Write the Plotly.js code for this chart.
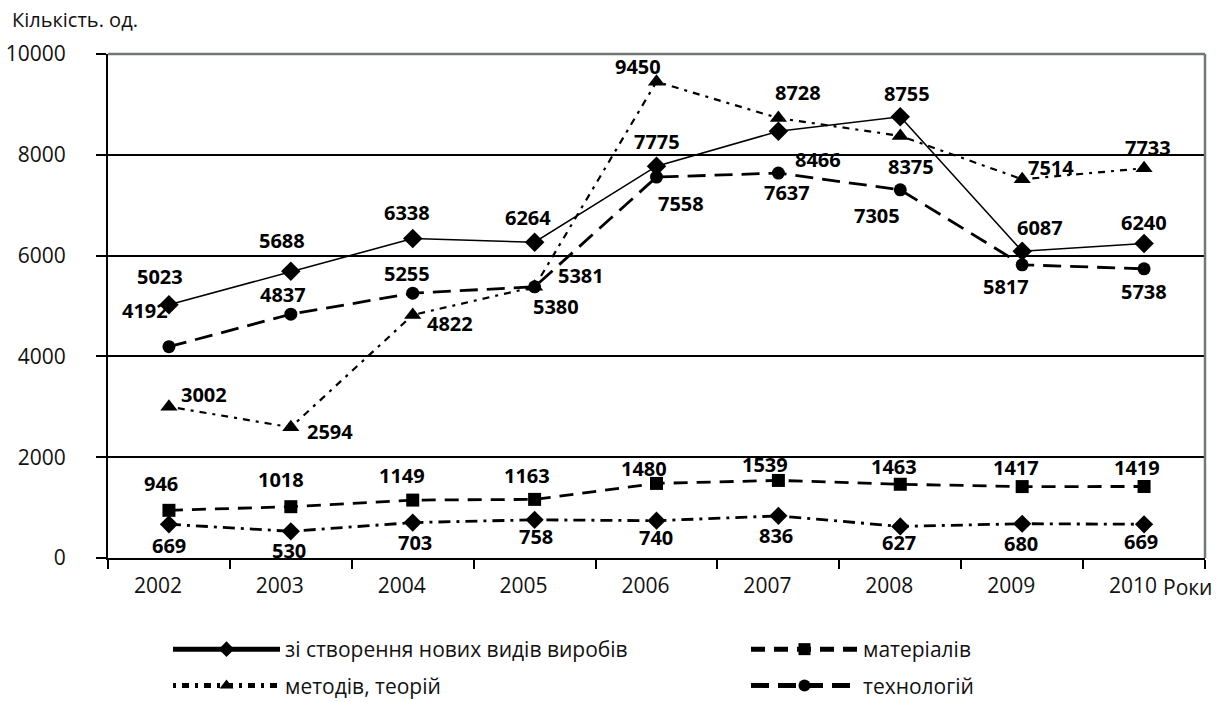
<!DOCTYPE html>
<html><head><meta charset="utf-8">
<script src="https://cdn.plot.ly/plotly-3.0.1.min.js"></script>
<style>body{margin:0;background:#fff}#chart{width:1225px;height:702px}</style>
</head><body><div id="chart"></div>
<script>
// ---- data ----
const years = ['2002','2003','2004','2005','2006','2007','2008','2009','2010'];
const products   = [5023, 5688, 6338, 6264, 7775, 8466, 8755, 6087, 6240]; // зі створення нових видів виробів
const methods    = [3002, 2594, 4822, 5380, 9450, 8728, 8375, 7514, 7733]; // методів, теорій
const materials  = [946, 1018, 1149, 1163, 1480, 1539, 1463, 1417, 1419];  // матеріалів
const technology = [4192, 4837, 5255, 5381, 7558, 7637, 7305, 5817, 5738]; // технологій
const other      = [669, 530, 703, 758, 740, 836, 627, 680, 669];
const seriesNames = ['зі створення нових видів виробів', 'методів, теорій', 'матеріалів', 'технологій'];
const yTicks = [0, 2000, 4000, 6000, 8000, 10000];

// ---- label offsets (px) ----
const offProducts = [[-9,28],[-9,31],[-6,26],[-7,25],[0,25],[40,-28],[7,23],[18,24],[0,21]];
const offMethods  = [[35,12],[39,-4],[37,-9],[21,-20],[-19,15],[20,26],[11,-31],[29,12],[4,21]];
const offMaterials= [[-8,27],[-10,27],[-11,25],[-8,24],[-13,15],[-13,16],[-6,18],[-6,19],[-7,19]];
const offTech     = [[-24,36],[-8,20],[-6,20],[46,11],[24,-26],[9,-19],[-23,-26],[-16,-22],[0,-23]];
const offOther    = [[0,-21],[-2,-19],[2,-20],[1,-17],[-1,-17],[-2,-20],[-1,-16],[-1,-20],[-3,-17]];

const FONT = 'Open Sans, Noto Sans, sans-serif';
function tr(y, name, dash, width, symbol, size, legend, group, show, rank) {
  return {x: years, y: y, name: name, type: 'scatter', mode: 'lines+markers',
    line: {color: '#000', dash: dash, width: width},
    marker: {color: '#000', symbol: symbol, size: size},
    legend: legend, legendgroup: group, legendrank: rank, showlegend: show, cliponaxis: false};
}
const data = [
  tr(other, 'інше', '12px,6px,3px,6px', 2.8, 'diamond', 14, 'legend', 'g5', false, 5000),
  tr(materials, seriesNames[2], '14px,9px', 2.8, 'square', 13, 'legend2', 'g3', true, 1),
  tr(technology, seriesNames[3], '18px,9px', 2.8, 'circle', 13, 'legend2', 'g4', true, 2),
  tr(methods, seriesNames[1], '3px,6px,7px,6px', 2.2, 'triangle-up', 15, 'legend', 'g2', true, 2),
  tr(products, seriesNames[0], 'solid', 1.6, 'diamond', 15, 'legend', 'g1', true, 1)
];

const PW = 1097, PH = 504; // plot area size for converting px to paper
const annotations = [];
function addLabels(vals, offs) {
  vals.forEach((v, i) => annotations.push({x: i, y: v, xref: 'x', yref: 'y', text: '<b>' + v + '</b>',
    showarrow: false, xshift: offs[i][0], yshift: offs[i][1],
    font: {family: FONT, size: 20, color: '#000'}}));
}
addLabels(products, offProducts);
addLabels(methods, offMethods);
addLabels(materials, offMaterials);
addLabels(technology, offTech);
addLabels(other, offOther);
annotations.push({xref: 'paper', yref: 'paper', x: (10 - 108) / PW, y: 1 + (54 - 19) / PH, xanchor: 'left', yanchor: 'middle',
  text: 'Кількість. од.', showarrow: false, font: {family: FONT, size: 20, color: '#111'}});
annotations.push({xref: 'paper', yref: 'paper', x: 1, y: 0, xanchor: 'left', yanchor: 'middle', xshift: -44, yshift: -29,
  text: 'Роки', showarrow: false, font: {family: FONT, size: 21, color: '#111'}});

const legendBase = {orientation: 'v', xref: 'paper', yref: 'paper', yanchor: 'top', xanchor: 'left',
  font: {family: FONT, size: 21, color: '#111'}, itemwidth: 107, itemsizing: 'constant', tracegroupgap: 6,
  traceorder: 'grouped', bgcolor: 'rgba(0,0,0,0)'};

const layout = {
  width: 1225, height: 702,
  margin: {l: 108, r: 20, t: 54, b: 144, autoexpand: false},
  paper_bgcolor: '#fff', plot_bgcolor: '#fff',
  font: {family: FONT, size: 21, color: '#111'},
  xaxis: {type: 'category', tickson: 'boundaries', ticks: 'outside', ticklen: 9, tickwidth: 2, tickcolor: '#000',
    showline: true, linecolor: '#000', linewidth: 2, showgrid: false, ticklabelstandoff: 8, ticklabelshift: -11,
    tickangle: 0, tickfont: {family: FONT, size: 21, color: '#111'}, range: [-0.5, 8.5]},
  yaxis: {range: [0, 10000], tickvals: yTicks, tickformat: 'd', ticks: 'outside', ticklen: 10, tickwidth: 2, tickcolor: '#000',
    showline: true, linecolor: '#000', linewidth: 2, showgrid: true, gridcolor: '#000', gridwidth: 2,
    zeroline: false, ticklabelstandoff: 26, tickfont: {family: FONT, size: 21, color: '#111'}},
  shapes: [
    {type: 'line', xref: 'paper', yref: 'paper', x0: 0, x1: 1, y0: 1, y1: 1, line: {color: '#6f7777', width: 2.5}, layer: 'above'},
    {type: 'line', xref: 'paper', yref: 'paper', x0: 1, x1: 1, y0: 0, y1: 1, line: {color: '#6f7777', width: 2.5}, layer: 'above'}
  ],
  annotations: annotations,
  showlegend: true,
  legend: Object.assign({}, legendBase, {x: (168 - 108) / PW, y: -(629 - 558) / PH}),
  legend2: Object.assign({}, legendBase, {x: (746 - 108) / PW, y: -(629 - 558) / PH})
};
Plotly.newPlot('chart', data, layout, {displayModeBar: false});
</script></body></html>
